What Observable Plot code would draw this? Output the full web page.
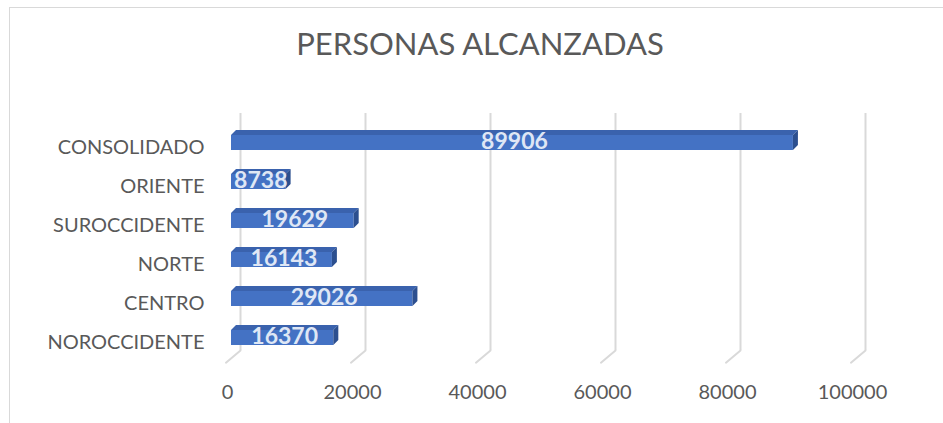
<!DOCTYPE html>
<html>
<head>
<meta charset="utf-8">
<script src="https://cdn.jsdelivr.net/npm/d3@7"></script>
<script src="https://cdn.jsdelivr.net/npm/@observablehq/plot@0.6"></script>
<style>
  html, body { margin: 0; padding: 0; background: #fff; }
  #wrap { position: relative; width: 943px; height: 423px; overflow: hidden; font-family: Lato, "Open Sans", sans-serif; }
  #frame { position: absolute; left: 9px; top: 7px; width: 1200px; height: 800px; border-left: 1.5px solid #d9d9d9; border-top: 1.5px solid #d9d9d9; }
  #title { position: relative; height: 80px; box-sizing: border-box; width: 943px; padding-left: 17px; padding-top: 28px; text-align: center; font-size: 31px; line-height: 1; color: #595959; }
  #chart { position: relative; }
  g[fill="#3a62ad"] > rect { transform-box: fill-box; transform-origin: 0% 100%; transform: skewX(-45deg); }
  g[fill="#2c4f8f"] > rect { transform-box: fill-box; transform-origin: 0% 0%; transform: skewY(-45deg); }
</style>
</head>
<body>
<div id="wrap">
  <div id="frame"></div>
  <div id="title">PERSONAS ALCANZADAS</div>
  <div id="chart"></div>
</div>
<script>
const categories = ["CONSOLIDADO", "ORIENTE", "SUROCCIDENTE", "NORTE", "CENTRO", "NOROCCIDENTE"];
const values = [89906, 8738, 19629, 16143, 29026, 16370];
const ticks = [0, 20000, 40000, 60000, 80000, 100000];

const data = categories.map((c, i) => ({cat: c, v: values[i]}));

const lineShape = {draw(context, l) { context.moveTo(0, 0); context.lineTo(0, -l); }};

const chart = Plot.plot({
  width: 943,
  height: 343,
  marginLeft: 231,
  marginRight: 87,
  marginTop: 33,
  marginBottom: 73,
  x: {domain: [0, 100000], axis: null},
  y: {domain: categories, range: [41, 279], paddingInner: 0.62, paddingOuter: 0.31, axis: null},
  style: {fontFamily: "Lato, 'Open Sans', sans-serif", color: "#595959", background: "transparent", overflow: "visible"},
  marks: [
    Plot.ruleX(ticks, {x: d => d, dx: 9, stroke: "#d9d9d9", strokeWidth: 2}),
    Plot.vector(ticks, {x: d => d, frameAnchor: "bottom", dx: 9, anchor: "start", length: 19, rotate: 230, shape: lineShape, stroke: "#d9d9d9", strokeWidth: 2}),
    Plot.text(ticks, {x: d => d, text: d => String(d), frameAnchor: "bottom", dy: 48, dx: -4, fontSize: 20, fill: "#595959"}),
    Plot.axisY({tickSize: 0, tickPadding: 27, fontSize: 20, dy: 5, label: null, fill: "#595959"}),
    Plot.barX(data, {x1: d => 0, x2: "v", y: "cat", fill: "#4472c4"}),
    Plot.barX(data, {x1: d => 0, x2: "v", y: "cat", fill: "#3a62ad", insetTop: 10, dy: -15}),
    Plot.barX(data, {x1: "v", x2: "v", y: "cat", insetRight: -5, fill: "#2c4f8f"}),
    Plot.text(data, {x: d => d.v / 2, y: "cat", text: d => String(d.v), fontSize: 23, fontWeight: "bold", fill: "#dfe7f5", dx: 2, dy: -1})
  ]
});
document.getElementById("chart").appendChild(chart);
</script>
</body>
</html>
